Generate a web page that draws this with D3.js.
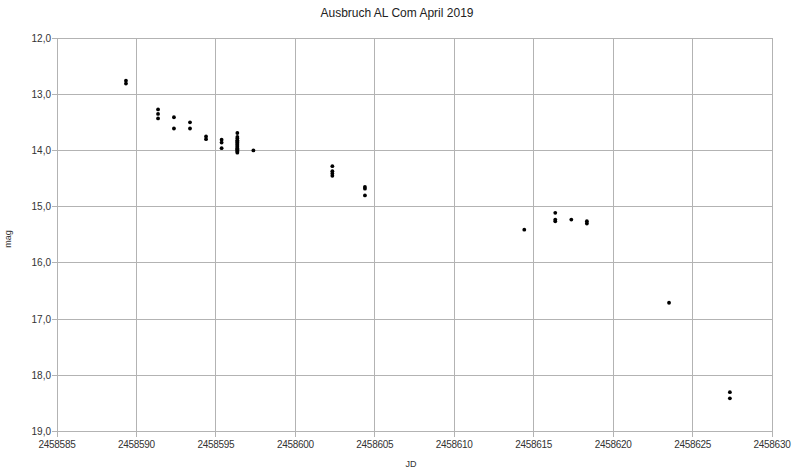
<!DOCTYPE html>
<html><head><meta charset="utf-8">
<script src="https://cdn.jsdelivr.net/npm/d3@7"></script>
<style>body{margin:0;background:#fff}svg{display:block}text{font-family:"Liberation Sans",Arial,sans-serif}</style>
</head><body>
<svg id="c" width="792" height="470"></svg>
<script>
const title = "Ausbruch AL Com April 2019";
const xTicks = [2458585,2458590,2458595,2458600,2458605,2458610,2458615,2458620,2458625,2458630];
const yTicks = [12,13,14,15,16,17,18,19];
const jd = [
 2458589.34,2458589.34,
 2458591.36,2458591.36,2458591.36,
 2458592.36,2458592.36,
 2458593.37,2458593.37,
 2458594.38,2458594.38,
 2458595.36,2458595.36,2458595.36,
 2458596.35,2458596.35,2458596.35,2458596.35,2458596.35,2458596.35,2458596.35,2458596.35,2458596.35,2458596.35,2458596.35,2458596.35,2458596.35,2458596.35,2458596.35,
 2458597.36,
 2458602.33,2458602.33,2458602.33,2458602.33,
 2458604.38,2458604.38,2458604.38,
 2458614.41,
 2458616.36,2458616.36,2458616.36,
 2458617.37,
 2458618.35,2458618.35,
 2458623.52,
 2458627.35,2458627.35
];
const mag = [
 12.76,12.81,
 13.27,13.35,13.43,
 13.41,13.61,
 13.50,13.61,
 13.75,13.80,
 13.81,13.86,13.96,
 13.69,13.76,13.79,13.82,13.84,13.86,13.88,13.90,13.92,13.94,13.96,13.98,14.00,14.02,14.04,
 14.00,
 14.28,14.37,14.41,14.45,
 14.65,14.68,14.80,
 15.41,
 15.11,15.23,15.26,
 15.23,
 15.26,15.30,
 16.71,
 18.30,18.41
];
const svg = d3.select("#c");
const L=57,R=772,T=38,B=431.5;
const x = d3.scaleLinear().domain([2458585,2458630]).range([L,R]);
const y = d3.scaleLinear().domain([12,19]).range([T,B]);
const grid="#b3b3b3";
svg.append("g").selectAll("line").data(xTicks).join("line")
 .attr("x1",d=>x(d)).attr("x2",d=>x(d)).attr("y1",T).attr("y2",B+5)
 .attr("stroke",grid).attr("stroke-width",1).attr("shape-rendering","crispEdges");
svg.append("g").selectAll("line").data(yTicks).join("line")
 .attr("x1",L-5).attr("x2",R).attr("y1",d=>y(d)).attr("y2",d=>y(d))
 .attr("stroke",grid).attr("stroke-width",1).attr("shape-rendering","crispEdges");
svg.append("g").selectAll("text").data(yTicks).join("text")
 .attr("x",L-6).attr("y",d=>y(d)+3.5).attr("text-anchor","end")
 .attr("font-size",10).attr("fill","#333")
 .text(d=>d3.format(".1f")(d).replace(".",","));
svg.append("g").selectAll("text").data(xTicks).join("text")
 .attr("x",d=>x(d)).attr("y",B+16).attr("text-anchor","middle")
 .attr("font-size",10).attr("fill","#333").attr("letter-spacing","-0.3")
 .text(d=>d);
svg.append("text").attr("x",397).attr("y",17).attr("text-anchor","middle")
 .attr("font-size",12).attr("fill","#222").text(title);
svg.append("text").attr("x",411).attr("y",467).attr("text-anchor","middle")
 .attr("font-size",9).attr("fill","#333").text("JD");
svg.append("text").attr("transform","translate(11,239) rotate(-90)").attr("text-anchor","middle")
 .attr("font-size",9).attr("fill","#333").text("mag");
svg.append("g").selectAll("circle").data(jd.map((d,i)=>[d,mag[i]])).join("circle")
 .attr("cx",d=>x(d[0])).attr("cy",d=>y(d[1])).attr("r",1.9)
 .attr("fill","#000");
</script>
</body></html>
